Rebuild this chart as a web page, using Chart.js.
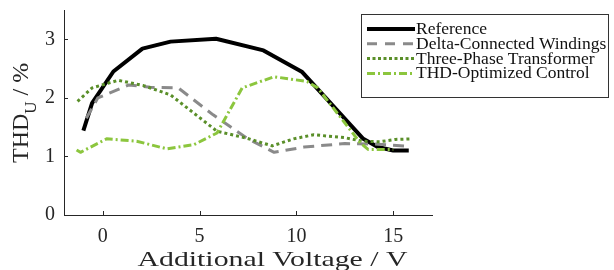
<!DOCTYPE html>
<html lang="en">
<head>
<meta charset="UTF-8">
<title>THD_U vs Additional Voltage</title>
<script src="https://cdn.jsdelivr.net/npm/chart.js@4"></script>
<style>
  html, body { margin: 0; padding: 0; background: #fff; }
  #wrap { width: 614px; height: 270px; }
</style>
</head>
<body>
<div id="wrap"><canvas id="chart" width="614" height="270"></canvas></div>
<script>
// Values (x in V, y in %)
const seriesNames = ['Reference', 'Delta-Connected Windings', 'Three-Phase Transformer', 'THD-Optimized Control'];

const refX = [-1.0, -0.55, 0.55, 2.05, 3.5, 5.85, 8.3, 10.3, 13.45, 14.2, 15.0, 15.8];
const refY = [1.44, 1.91, 2.45, 2.84, 2.96, 3.01, 2.81, 2.44, 1.30, 1.16, 1.10, 1.10];

const deltaX = [-0.85, -0.25, 1.35, 2.45, 3.9, 5.7, 7.45, 8.85, 10.4, 12.5, 14.2, 15.9];
const deltaY = [1.65, 2.0, 2.22, 2.18, 2.17, 1.71, 1.31, 1.07, 1.16, 1.22, 1.21, 1.17];

const trafoX = [-1.3, -0.55, 0.8, 2.1, 3.5, 4.7, 5.9, 7.45, 8.75, 9.85, 10.9, 12.5, 13.4, 14.3, 15.1, 15.9];
const trafoY = [1.94, 2.17, 2.30, 2.21, 2.05, 1.74, 1.43, 1.31, 1.18, 1.30, 1.37, 1.32, 1.26, 1.25, 1.29, 1.30];

const thdX = [-1.35, -1.15, 0.2, 1.75, 3.3, 4.7, 5.9, 7.2, 8.85, 10.55, 11.1, 13.3, 13.7, 15.0];
const thdY = [1.11, 1.07, 1.30, 1.26, 1.13, 1.20, 1.40, 2.17, 2.36, 2.28, 2.17, 1.23, 1.12, 1.12];

const xTicks = [0, 5, 10, 15];
const yTicks = [0, 1, 2, 3];

const SERIF = '"Liberation Serif", "Times New Roman", serif';
const AXIS_COLOR = '#262626';

const colors = ['#000000', '#8a8a8a', '#5a8f29', '#8cc63e'];
const widths = [4, 3, 3, 3];
const dashes = [[], [11, 7], [3, 3], [8, 3, 2, 3]];
const legendDashes = [[], [10, 8], [3, 2.5], [8, 3, 2, 3]];

function toPoints(xs, ys) {
  return xs.map((x, i) => ({ x: x, y: ys[i] }));
}

const allX = [refX, deltaX, trafoX, thdX];
const allY = [refY, deltaY, trafoY, thdY];

const datasets = seriesNames.map((name, i) => ({
  label: name,
  data: toPoints(allX[i], allY[i]),
  borderColor: colors[i],
  borderWidth: widths[i],
  borderDash: dashes[i],
  borderCapStyle: 'butt',
  borderJoinStyle: 'round',
  pointRadius: 0,
  tension: 0,
  fill: false,
  order: 4 - i
}));

// Inward ticks, axis titles and the boxed legend
const decorations = {
  id: 'decorations',
  afterDraw(chart) {
    const ctx = chart.ctx;
    const xs = chart.scales.x;
    const ys = chart.scales.y;
    const area = chart.chartArea;
    ctx.save();

    // inward tick marks
    ctx.strokeStyle = AXIS_COLOR;
    ctx.lineWidth = 1;
    ctx.beginPath();
    xTicks.forEach(v => {
      const px = Math.round(xs.getPixelForValue(v)) + 0.5;
      ctx.moveTo(px, area.bottom);
      ctx.lineTo(px, area.bottom - 4);
    });
    yTicks.forEach(v => {
      const py = Math.round(ys.getPixelForValue(v)) + 0.5;
      ctx.moveTo(area.left, py);
      ctx.lineTo(area.left + 4, py);
    });
    ctx.stroke();

    // x axis title (the reference text is a bit wider than the font, stretch it)
    ctx.fillStyle = AXIS_COLOR;
    ctx.font = '22px ' + SERIF;
    ctx.textAlign = 'center';
    ctx.textBaseline = 'alphabetic';
    const xTitle = 'Additional Voltage / V';
    const sx = 270 / ctx.measureText(xTitle).width;
    ctx.save();
    ctx.translate(272.5, 266);
    ctx.scale(sx, 1);
    ctx.fillText(xTitle, 0, 0);
    ctx.restore();

    // y axis title with subscript, rotated
    ctx.save();
    ctx.translate(28, 163);
    ctx.rotate(-Math.PI / 2);
    ctx.textAlign = 'left';
    ctx.font = '24px ' + SERIF;
    ctx.fillText('THD', 0, 0);
    let w = ctx.measureText('THD').width;
    ctx.font = '17px ' + SERIF;
    ctx.fillText('U', w, 8);
    w += ctx.measureText('U').width;
    ctx.font = '24px ' + SERIF;
    ctx.fillText(' / %', w, 0);
    ctx.restore();

    // legend
    ctx.fillStyle = '#fff';
    ctx.fillRect(362, 14, 247, 83);
    ctx.strokeStyle = '#333';
    ctx.lineWidth = 1;
    ctx.setLineDash([]);
    ctx.strokeRect(361.5, 14.5, 247, 83);
    ctx.font = '17.5px ' + SERIF;
    ctx.textAlign = 'left';
    ctx.textBaseline = 'middle';
    seriesNames.forEach((name, i) => {
      const cy = 28.5 + i * 14.8;
      ctx.strokeStyle = colors[i];
      ctx.lineWidth = widths[i];
      ctx.lineCap = 'butt';
      ctx.setLineDash(legendDashes[i]);
      ctx.beginPath();
      ctx.moveTo(367, cy + 0.5);
      ctx.lineTo(415, cy + 0.5);
      ctx.stroke();
      ctx.setLineDash([]);
      ctx.fillStyle = '#111';
      ctx.fillText(name, 416, cy + 1);
    });

    ctx.restore();
  }
};

new Chart(document.getElementById('chart'), {
  type: 'line',
  data: { datasets: datasets },
  options: {
    responsive: false,
    animation: false,
    devicePixelRatio: 1,
    layout: { padding: { left: 0, right: 182, top: 10, bottom: 0 } },
    plugins: {
      legend: { display: false },
      tooltip: { enabled: false }
    },
    scales: {
      x: {
        type: 'linear',
        min: -2,
        max: 17,
        afterBuildTicks: scale => { scale.ticks = xTicks.map(v => ({ value: v })); },
        afterFit: scale => {
          scale.height = 55;
          scale.paddingLeft = 0;
          scale.paddingRight = 0;
        },
        grid: { display: false, drawTicks: false },
        border: { display: true, color: AXIS_COLOR, width: 1 },
        ticks: {
          padding: 10,
          color: AXIS_COLOR,
          maxRotation: 0,
          font: { family: SERIF, size: 20 },
          callback: v => String(v)
        }
      },
      y: {
        min: 0,
        max: 3.5,
        afterBuildTicks: scale => { scale.ticks = yTicks.map(v => ({ value: v })); },
        afterFit: scale => {
          scale.width = 64;
          scale.paddingTop = 0;
          scale.paddingBottom = 0;
        },
        grid: { display: false, drawTicks: false },
        border: { display: true, color: AXIS_COLOR, width: 1 },
        ticks: {
          padding: 9,
          color: AXIS_COLOR,
          font: { family: SERIF, size: 20 },
          callback: v => String(v)
        }
      }
    }
  },
  plugins: [decorations]
});
</script>
</body>
</html>
